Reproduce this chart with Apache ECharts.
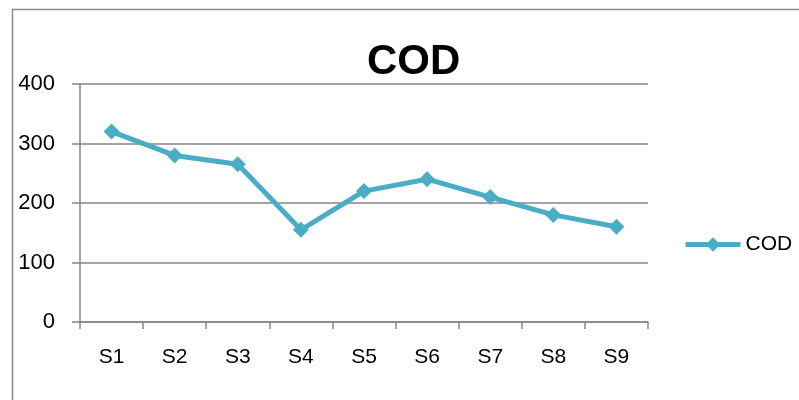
<!DOCTYPE html>
<html>
<head>
<meta charset="utf-8">
<script src="https://cdn.jsdelivr.net/npm/echarts@6/dist/echarts.min.js"></script>
<style>
  html, body { margin: 0; padding: 0; background: #fff; }
  #chart { width: 799px; height: 400px; }
</style>
</head>
<body>
<div id="chart"></div>
<script>
const categories = ['S1', 'S2', 'S3', 'S4', 'S5', 'S6', 'S7', 'S8', 'S9']
const codValues = [320, 280, 265, 155, 220, 240, 210, 180, 160]
const yTicks = [0, 100, 200, 300, 400]

const font = 'Liberation Sans'
const lineColor = '#4BACC6'
const gridColor = '#868686'

const chart = echarts.init(document.getElementById('chart'))
chart.setOption({
  animation: false,
  textStyle: { fontFamily: font },
  graphic: [{
    type: 'rect',
    shape: { x: 12.5, y: 9.5, width: 900, height: 500 },
    style: { fill: 'none', stroke: '#8c8c8c', lineWidth: 1.5 },
    silent: true
  }],
  title: {
    text: 'COD',
    left: 362,
    top: 36,
    textStyle: { fontFamily: font, fontSize: 42, fontWeight: 'bold', color: '#000' }
  },
  legend: {
    left: 678,
    top: 229,
    itemWidth: 55,
    itemHeight: 18,
    itemGap: 4,
    lineStyle: { width: 5 },
    textStyle: { fontFamily: font, fontSize: 21, color: '#000' },
    data: ['COD']
  },
  grid: { left: 80, right: 151, top: 84, bottom: 78 },
  xAxis: {
    type: 'category',
    data: categories,
    boundaryGap: true,
    axisLine: { lineStyle: { color: gridColor, width: 1.5 } },
    axisTick: { show: true, length: 7, alignWithLabel: false, lineStyle: { color: gridColor, width: 1.5 } },
    axisLabel: { color: '#000', fontSize: 21, fontFamily: font, margin: 25 }
  },
  yAxis: {
    type: 'value',
    min: yTicks[0],
    max: yTicks[yTicks.length - 1],
    interval: 100,
    axisLine: { show: true, lineStyle: { color: gridColor, width: 1.5 } },
    axisTick: { show: true, length: 8, lineStyle: { color: gridColor, width: 1.5 } },
    axisLabel: { color: '#000', fontSize: 22, fontFamily: font, margin: 25 },
    splitLine: { lineStyle: { color: gridColor, width: 1.5 } }
  },
  series: [{
    name: 'COD',
    type: 'line',
    data: codValues,
    symbol: 'diamond',
    symbolSize: 16,
    itemStyle: { color: lineColor },
    lineStyle: { color: lineColor, width: 5 }
  }]
})
</script>
</body>
</html>
